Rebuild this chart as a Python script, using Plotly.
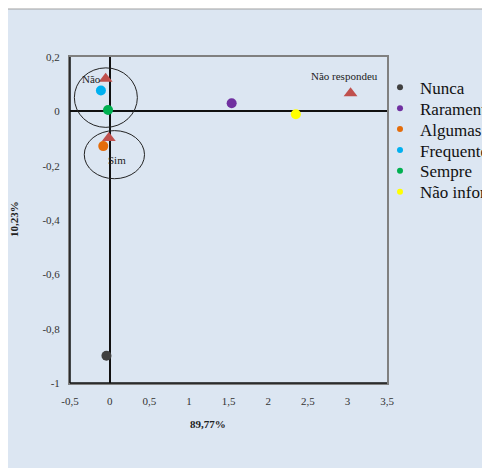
import plotly.graph_objects as go

# ---- data ----
categories = ["Nunca", "Raramente", "Algumas vezes", "Frequentemente", "Sempre", "Não informou"]
cat_x = [-0.04, 1.54, -0.08, -0.11, -0.02, 2.35]
cat_y = [-0.90, 0.03, -0.128, 0.077, 0.005, -0.011]
cat_colors = ["#404040", "#7030A0", "#E46C0A", "#00B0F0", "#00B050", "#FFFF00"]

answers = ["Não", "Sim", "Não respondeu"]
ans_x = [-0.05, -0.01, 3.04]
ans_y = [0.12, -0.098, 0.067]
ans_color = "#C0504D"

x_tickvals = [-0.5, 0, 0.5, 1, 1.5, 2, 2.5, 3, 3.5]
x_ticktext = ["-0,5", "0", "0,5", "1", "1,5", "2", "2,5", "3", "3,5"]
y_tickvals = [0.2, 0, -0.2, -0.4, -0.6, -0.8, -1]
y_ticktext = ["0,2", "0", "-0,2", "-0,4", "-0,6", "-0,8", "-1"]

x_title = "89,77%"
y_title = "10,23%"

# ellipses around groups (x0, x1, y0, y1)
ellipses = [(-0.445, 0.35, -0.059, 0.16), (-0.32, 0.44, -0.248, -0.071)]

FONT = "Liberation Serif"

# page offset (default body margin of the html page)
OFF = 8
W, H = 490, 468
# plot area in screen pixels
SL, SR, ST, SB = 70, 387, 57, 383
def px(sx):
    return (sx - SL) / (SR - SL)
def py(sy):
    return (SB - sy) / (SB - ST)

fig = go.Figure()

legend_names = ["legend"] + [f"legend{i}" for i in range(2, len(categories) + 1)]
for name, x, y, c, lg in zip(categories, cat_x, cat_y, cat_colors, legend_names):
    fig.add_trace(go.Scatter(x=[x], y=[y], mode="markers", name=name,
                             marker=dict(color=c, size=10), showlegend=False,
                             legendgroup=name, hoverinfo="x+y+name"))
    fig.add_trace(go.Scatter(x=[None], y=[None], mode="markers", name=name,
                             marker=dict(color=c, size=6), showlegend=True,
                             legendgroup=name, legend=lg))

fig.add_trace(go.Scatter(x=ans_x, y=ans_y, mode="markers", text=answers,
                         marker=dict(symbol="triangle-up", color=ans_color, size=12),
                         showlegend=False, hoverinfo="text"))

# labels for the answer points
label_shift = {"Não": dict(xanchor="right", xshift=-3, yshift=0),
               "Sim": dict(xanchor="center", xshift=8, yshift=-22),
               "Não respondeu": dict(xanchor="center", xshift=-6, yshift=17)}
for name, x, y in zip(answers, ans_x, ans_y):
    fig.add_annotation(x=x, y=y, text=name, showarrow=False, yanchor="middle",
                       font=dict(family=FONT, size=11, color="#222"),
                       **label_shift[name])

# outer chart area
fig.add_shape(type="rect", xref="paper", yref="paper", x0=px(7), x1=2.0,
              y0=-1.0, y1=py(9), fillcolor="#DCE6F2",
              line=dict(color="#A0A0A0", width=1), layer="below")

for (x0, x1, y0, y1) in ellipses:
    fig.add_shape(type="circle", xref="x", yref="y", x0=x0, x1=x1, y0=y0, y1=y1,
                  line=dict(color="#222", width=1), layer="above")

# black left and bottom plot borders
fig.add_shape(type="line", xref="paper", yref="paper", x0=0, x1=0, y0=0, y1=1,
              line=dict(color="#111", width=1.5), layer="above")
fig.add_shape(type="line", xref="paper", yref="paper", x0=0, x1=1, y0=0, y1=0,
              line=dict(color="#111", width=1.5), layer="above")

# axis titles
fig.add_annotation(xref="paper", yref="paper", x=px(208), y=py(424),
                   text=f"<b>{x_title}</b>", showarrow=False, xanchor="center",
                   yanchor="middle", font=dict(family=FONT, size=11, color="#222"))
fig.add_annotation(xref="paper", yref="paper", x=px(14), y=py(219),
                   text=f"<b>{y_title}</b>", showarrow=False, textangle=-90,
                   xanchor="center", yanchor="middle",
                   font=dict(family=FONT, size=11, color="#222"))

legend_rows_px = [87.7, 108.6, 129.5, 150.4, 171.3, 192.2]
legend_layout = {}
for lg, ry in zip(legend_names, legend_rows_px):
    legend_layout[lg] = dict(x=px(380), xanchor="left", y=py(ry), yanchor="middle",
                             bgcolor="rgba(0,0,0,0)",
                             font=dict(family=FONT, size=17, color="#111"),
                             itemwidth=30)

fig.update_layout(
    width=W, height=H,
    margin=dict(l=SL - OFF, r=W - (SR - OFF), t=ST - OFF, b=H - (SB - OFF), autoexpand=False),
    paper_bgcolor="white", plot_bgcolor="#D9D9D9",
    font=dict(family=FONT, size=11, color="#333"),
    showlegend=True,
    xaxis=dict(range=[-0.5, 3.5], tickvals=x_tickvals, ticktext=x_ticktext,
               showgrid=False, zeroline=True, zerolinecolor="#111", zerolinewidth=1.5,
               showline=True, linecolor="#808080", linewidth=2, mirror=True,
               ticks="", ticklabelstandoff=7, tickfont=dict(family=FONT, size=11, color="#333")),
    yaxis=dict(range=[-1, 0.2], tickvals=y_tickvals, ticktext=y_ticktext,
               showgrid=False, zeroline=True, zerolinecolor="#111", zerolinewidth=1.5,
               showline=True, linecolor="#808080", linewidth=2, mirror=True,
               ticks="", ticklabelstandoff=6, tickfont=dict(family=FONT, size=11, color="#333")),
    **legend_layout,
)

fig.write_html(
    "out.html",
    post_script="document.documentElement.style.overflow='hidden';"
                "document.body.style.overflow='hidden';",
)
